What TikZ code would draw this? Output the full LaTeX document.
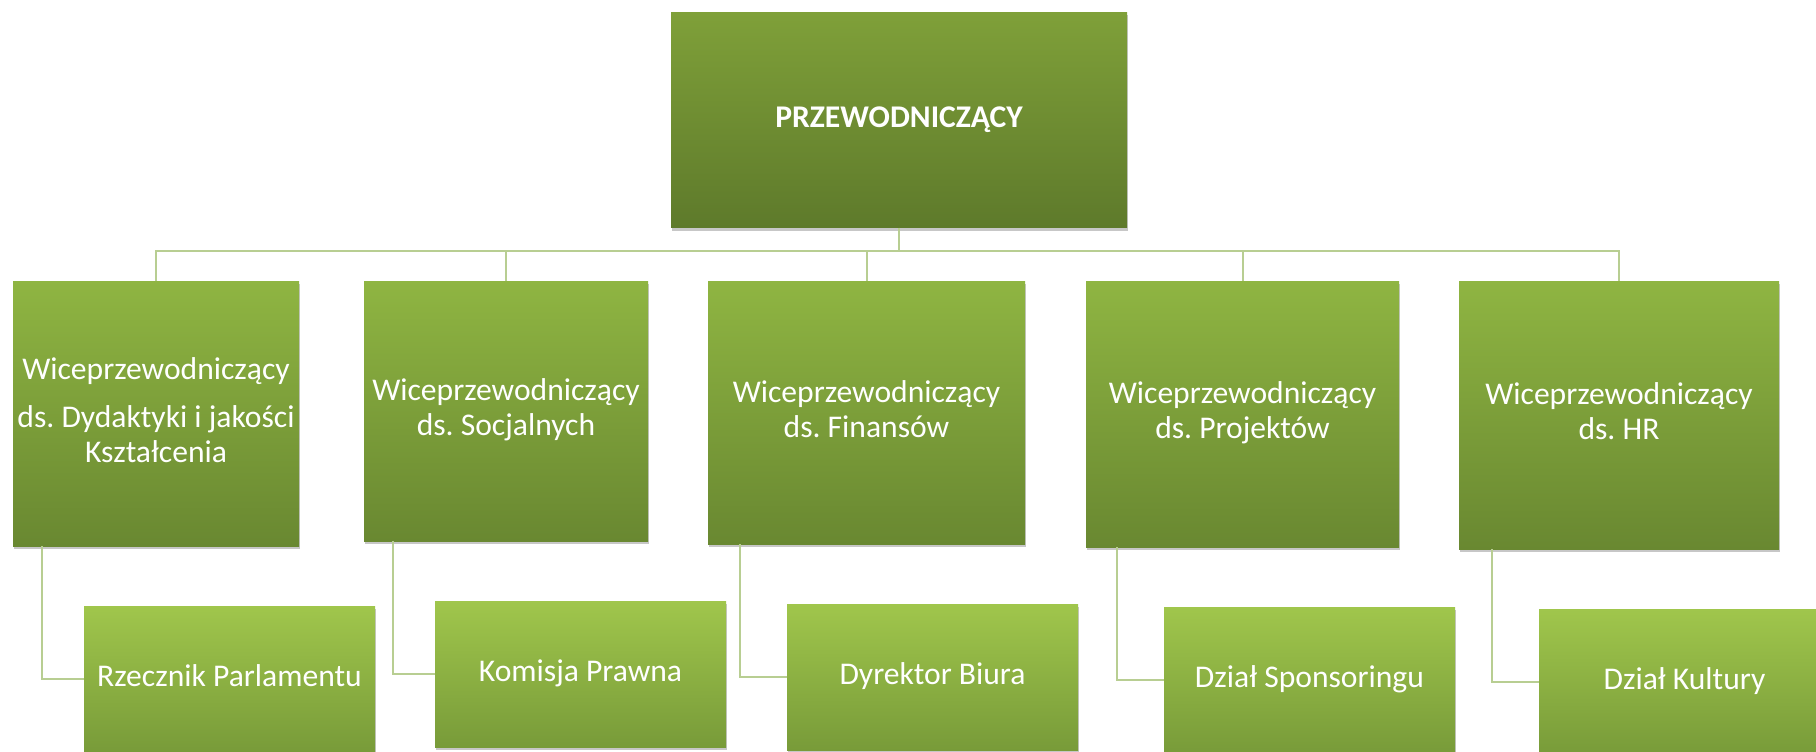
\documentclass[tikz,border=0pt]{standalone}
\usepackage{fontspec}
\setmainfont{Carlito}
\frenchspacing
\usetikzlibrary{shadows}
\definecolor{topT}{RGB}{127,160,57}
\definecolor{topB}{RGB}{94,122,43}
\definecolor{midT}{RGB}{143,181,66}
\definecolor{midB}{RGB}{105,136,49}
\definecolor{lowT}{RGB}{160,198,76}
\definecolor{lowB}{RGB}{120,155,57}
\definecolor{lineC}{RGB}{184,206,146}
\begin{document}
\begin{tikzpicture}[x=1pt,y=-1pt,
  box/.style={rectangle, inner sep=0pt, text=white, align=center,
    font=\fontsize{31.6}{35}\selectfont\frenchspacing,
    drop shadow={shadow xshift=1pt, shadow yshift=-3pt, opacity=0.22, fill=black}},
  lvlzero/.style={box, top color=topT, bottom color=topB,
    font=\fontsize{31.6}{35}\selectfont\bfseries},
  lvlone/.style={box, top color=midT, bottom color=midB},
  lvltwo/.style={box, top color=lowT, bottom color=lowB,
    minimum width=291pt, minimum height=146pt},
  conn/.style={draw=lineC, line width=2pt}
]
\useasboundingbox (0,0) rectangle (1816,752);
\begin{scope}
\clip (0,0) rectangle (1816,752);
% top
\node[lvlzero, minimum width=456pt, minimum height=215pt, yshift=-2.5pt] (top) at (899,117.5) {\strut PRZEWODNICZĄCY};
% level one
\node[lvlone, minimum width=286pt, minimum height=265pt] (b1) at (156,413.5)
  {\strut Wiceprzewodniczący\\[13pt]\strut ds. Dydaktyki i jakości\\\strut Kształcenia};
\node[lvlone, minimum width=284pt, minimum height=260pt] (b2) at (506,411)
  {\strut Wiceprzewodniczący\\\strut ds. Socjalnych};
\node[lvlone, minimum width=317pt, minimum height=263pt] (b3) at (866.5,412.5)
  {\strut Wiceprzewodniczący\\\strut ds. Finansów};
\node[lvlone, minimum width=313pt, minimum height=266pt] (b4) at (1242.5,414)
  {\strut Wiceprzewodniczący\\\strut ds. Projektów};
\node[lvlone, minimum width=320pt, minimum height=268pt] (b5) at (1619,415)
  {\strut Wiceprzewodniczący\\\strut ds. HR};
% level two
\node[lvltwo] (c1) at (229.5,679) {\strut Rzecznik Parlamentu};
\node[lvltwo] (c2) at (580.5,674) {\strut Komisja Prawna};
\node[lvltwo] (c3) at (932.5,677) {\strut Dyrektor Biura};
\node[lvltwo] (c4) at (1309.5,680) {\strut Dział Sponsoringu};
\node[lvltwo] (c5) at (1684.5,682) {\strut Dział Kultury};
% connectors
\coordinate (bus) at (0,251);
\draw[conn] (top.south) -- (top.south |- bus) -| (b1.north);
\draw[conn] (top.south |- bus) -| (b2.north);
\draw[conn] (top.south |- bus) -| (b3.north);
\draw[conn] (top.south |- bus) -| (b4.north);
\draw[conn] (top.south |- bus) -| (b5.north);
\draw[conn] ([xshift=29pt]b1.south west) |- (c1.west);
\draw[conn] ([xshift=29pt]b2.south west) |- (c2.west);
\draw[conn] ([xshift=32pt]b3.south west) |- (c3.west);
\draw[conn] ([xshift=31pt]b4.south west) |- (c4.west);
\draw[conn] ([xshift=33pt]b5.south west) |- (c5.west);
\end{scope}
\end{tikzpicture}
\end{document}
